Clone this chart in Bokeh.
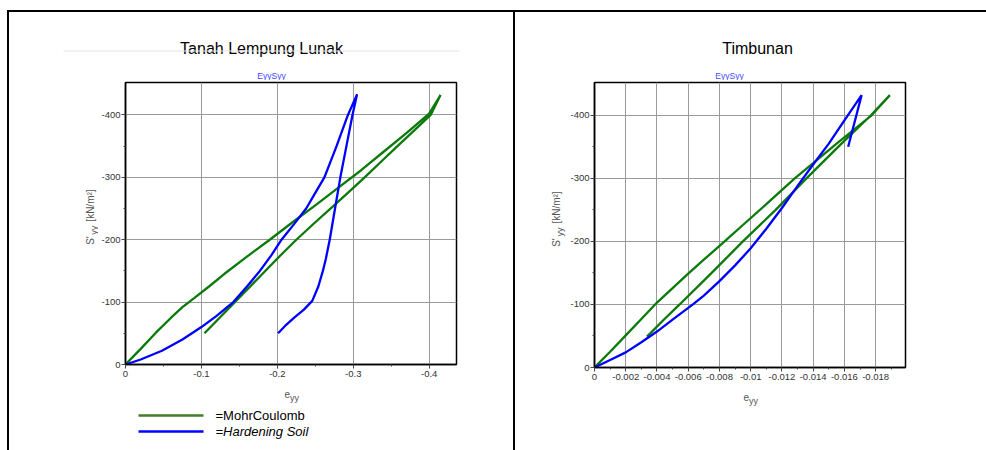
import math
from bokeh.plotting import figure
from bokeh.models import Range1d, FixedTicker, Div
from bokeh.layouts import row, column
from bokeh.core.properties import value
from bokeh.embed import file_html
from bokeh.resources import INLINE

# ---------------- data ----------------
# Tanah Lempung Lunak (left)
lunak_mc_load_x = [0, -0.02, -0.04, -0.06, -0.075, -0.09, -0.11, -0.13, -0.16, -0.19, -0.22, -0.25, -0.28, -0.31, -0.34, -0.37, -0.40, -0.415]
lunak_mc_load_y = [0, -25, -51, -75, -92, -106, -125, -145, -173, -200, -228, -255, -283, -311, -341, -371, -402, -432]
lunak_mc_unload_x = [-0.415, -0.402, -0.38, -0.36, -0.34, -0.315, -0.29, -0.27, -0.25, -0.225, -0.205, -0.185, -0.165, -0.144, -0.124, -0.104]
lunak_mc_unload_y = [-432, -400, -375, -352, -329, -300, -272, -250, -228, -200, -176, -151, -126, -100, -75, -50]
lunak_hs_load_x = [0, -0.02, -0.048, -0.075, -0.10, -0.12, -0.142, -0.16, -0.177, -0.192, -0.2055, -0.222, -0.238, -0.25, -0.262, -0.278, -0.293, -0.305]
lunak_hs_load_y = [0, -8, -22, -40, -60, -78, -100, -125, -150, -175, -200, -225, -250, -275, -300, -350, -400, -433]
lunak_hs_unload_x = [-0.305, -0.299, -0.291, -0.283, -0.276, -0.269, -0.264, -0.26, -0.254, -0.246, -0.235, -0.223, -0.212, -0.201]
lunak_hs_unload_y = [-433, -400, -350, -300, -250, -200, -170, -150, -125, -102, -88, -76, -64, -50]

# Timbunan (right)
timb_mc_load_x = [0, -0.001, -0.002, -0.003, -0.004, -0.005, -0.006, -0.007, -0.00833, -0.0095, -0.011, -0.01282, -0.014, -0.0155, -0.01774, -0.01891]
timb_mc_load_y = [0, -25, -51, -77, -103, -126, -149, -171, -200, -226, -259, -300, -324, -355, -400, -432]
timb_mc_unload_x = [-0.01891, -0.0177, -0.0156, -0.01357, -0.0116, -0.0095, -0.0075, -0.00545, -0.0044, -0.00336]
timb_mc_unload_y = [-432, -400, -350, -300, -250, -200, -150, -100, -75, -49]
timb_hs_load_x = [0, -0.001, -0.002, -0.003, -0.004, -0.005, -0.0063, -0.007, -0.008, -0.009, -0.01, -0.011, -0.012, -0.013, -0.014, -0.015, -0.016, -0.0171]
timb_hs_load_y = [0, -12, -24, -40, -57, -76, -100, -114, -137, -162, -189, -220, -253, -288, -322, -355, -392, -432]
timb_hs_unload_x = [-0.0171, -0.01667, -0.01624]
timb_hs_unload_y = [-432, -391, -350]

lunak_x_ticks = [0, -0.1, -0.2, -0.3, -0.4]
lunak_x_labels = ["0", "-0.1", "-0.2", "-0.3", "-0.4"]
lunak_x_minor = [-0.05, -0.15, -0.25, -0.35]
timb_x_ticks = [0, -0.002, -0.004, -0.006, -0.008, -0.01, -0.012, -0.014, -0.016, -0.018]
timb_x_labels = ["0", "-0.002", "-0.004", "-0.006", "-0.008", "-0.01", "-0.012", "-0.014", "-0.016", "-0.018"]
timb_x_minor = [-0.001, -0.003, -0.005, -0.007, -0.009, -0.011, -0.013, -0.015, -0.017, -0.019]
y_ticks = [0, -100, -200, -300, -400]
y_labels = ["0", "-100", "-200", "-300", "-400"]
y_minor = [-50, -150, -250, -350]

titles = ["Tanah Lempung Lunak", "Timbunan"]
subtitle = "EyySyy"
legend_labels = ["=MohrCoulomb", "=Hardening Soil"]

GREEN = "#0b7a0b"
BLUE = "#0000ff"
LEG_GREEN = "#3f7f2a"
FONT = "Liberation Sans"
TICK_COL = "#333333"
LAB_COL = "#555555"


# ---------- helpers ----------
class Canvas:
    """A bare figure used as a drawing surface, addressed in page pixels."""
    def __init__(self, page_x, page_y, w, h):
        self.px, self.py, self.w, self.h = page_x, page_y, w, h
        p = figure(width=w, height=h, output_backend="svg", toolbar_location=None,
                   x_range=Range1d(0, w), y_range=Range1d(0, h),
                   x_axis_type=None, y_axis_type=None,
                   min_border_left=0, min_border_right=0, min_border_top=0,
                   min_border_bottom=0, margin=(0, 0, 0, 0))
        p.outline_line_color = None
        p.grid.visible = False
        p.background_fill_color = "white"
        p.border_fill_color = "white"
        self.p = p

    def X(self, x):
        return x - self.px

    def Y(self, y):
        return self.h - (y - self.py)

    def text(self, x, y, t, size, color="black", align="left", baseline="alphabetic",
             angle=0.0, style="normal"):
        self.p.text(x=[self.X(x)], y=[self.Y(y)], text=[t], text_font=value(FONT),
                    text_font_size=value(size), text_color=color, text_align=align,
                    text_baseline=baseline, angle=angle, text_font_style=style)

    def hline(self, x0, x1, y, color, width):
        self.p.segment(x0=[self.X(x0)], y0=[self.Y(y)], x1=[self.X(x1)], y1=[self.Y(y)],
                       line_color=color, line_width=width)


def make_chart(width, height, bl, br, bt, bb, xr, xticks, xlabels, xminor):
    p = figure(width=width, height=height, output_backend="svg", toolbar_location=None,
               x_range=Range1d(*xr), y_range=Range1d(0, -452),
               min_border_left=bl, min_border_right=br, min_border_top=bt,
               min_border_bottom=bb, margin=(0, 0, 0, 0))
    p.background_fill_color = "white"
    p.border_fill_color = "white"
    p.outline_line_color = "black"
    p.outline_line_width = 1.5
    p.xaxis.ticker = FixedTicker(ticks=xticks, minor_ticks=xminor)
    p.yaxis.ticker = FixedTicker(ticks=y_ticks, minor_ticks=y_minor)
    p.xaxis.major_label_overrides = dict(zip(xticks, xlabels))
    p.yaxis.major_label_overrides = dict(zip(y_ticks, y_labels))
    for ax in (p.xaxis, p.yaxis):
        ax.axis_line_color = "black"
        ax.axis_line_width = 1.5
        ax.major_tick_out = 4
        ax.major_tick_in = 0
        ax.minor_tick_out = 2
        ax.minor_tick_in = 0
        ax.major_tick_line_color = "#444444"
        ax.minor_tick_line_color = "#444444"
        ax.major_label_text_font = FONT
        ax.major_label_text_font_size = "9.5px"
        ax.major_label_text_color = TICK_COL
        ax.major_label_standoff = 2
    p.yaxis.major_label_standoff = 1
    p.grid.grid_line_color = "#9a9a9a"
    p.grid.grid_line_width = 1
    return p


def ylabel(c, bx, y0):
    a = math.pi / 2
    c.text(bx, y0, "S'", "10px", color=LAB_COL, angle=a)
    c.text(bx + 3.5, y0 - 11, "yy", "9px", color=LAB_COL, angle=a)
    c.text(bx, y0 - 25, "[kN/m\u00b2]", "10px", color=LAB_COL, angle=a)


def xlabel(c, x, y):
    c.text(x, y, "e", "10px", color=LAB_COL)
    c.text(x + 5.5, y + 4, "yy", "9px", color=LAB_COL)


# ---------------- left panel (page x 9..513, y 12..450) ----------------
hl = Canvas(9, 12, 504, 68)
hl.text(261, 48, titles[0], "16px", align="center")
hl.hline(63, 459, 50.5, "#e4e4e4", 1)
hl.text(271, 75.5, subtitle, "8.5px", color="#4646ff", align="center")

sl = Canvas(9, 80, 89, 304)
ylabel(sl, 90, 255)

pl = make_chart(415, 304, 25, 57, 2, 20, (0, -0.436),
                lunak_x_ticks, lunak_x_labels, lunak_x_minor)
pl.line(lunak_mc_load_x + lunak_mc_unload_x, lunak_mc_load_y + lunak_mc_unload_y,
        line_color=GREEN, line_width=2.3)
pl.line(lunak_hs_load_x + lunak_hs_unload_x, lunak_hs_load_y + lunak_hs_unload_y,
        line_color=BLUE, line_width=2.3)

fl = Canvas(9, 384, 504, 66)
xlabel(fl, 284, 393)
fl.hline(138, 203, 415, LEG_GREEN, 2.3)
fl.hline(138, 203, 431, BLUE, 2.3)
fl.text(215, 415, legend_labels[0], "13px", baseline="middle")
fl.text(215, 431, legend_labels[1], "13px", baseline="middle", style="italic")

left_col = column(hl.p, row(sl.p, pl, spacing=0), fl.p, spacing=0)

# ---------------- right panel (page x 515..986, y 12..450) ----------------
hr = Canvas(515, 12, 471, 68)
hr.text(757, 48, titles[1], "16px", align="center")
hr.text(729, 75.5, subtitle, "8.5px", color="#4646ff", align="center")

sr = Canvas(515, 80, 51, 307)
ylabel(sr, 556, 257)

pr = make_chart(420, 307, 28, 81, 2, 20, (0, -0.01991),
                timb_x_ticks, timb_x_labels, timb_x_minor)
pr.line(timb_mc_load_x + timb_mc_unload_x, timb_mc_load_y + timb_mc_unload_y,
        line_color=GREEN, line_width=2.3)
pr.line(timb_hs_load_x + timb_hs_unload_x, timb_hs_load_y + timb_hs_unload_y,
        line_color=BLUE, line_width=2.3)

fr = Canvas(515, 387, 471, 63)
xlabel(fr, 743, 396)

right_col = column(hr.p, row(sr.p, pr, spacing=0), fr.p, spacing=0)


# ---------------- page layout with frame lines ----------------
def blk(w, h, color=None):
    st = {"background-color": color} if color else {}
    return Div(text="", width=w, height=h, margin=(0, 0, 0, 0), styles=st)


layout = row(
    blk(7, 450),
    column(
        blk(979, 10),
        blk(979, 2, "black"),
        row(blk(2, 438, "black"), left_col, blk(2, 438, "black"), right_col, spacing=0),
        spacing=0,
    ),
    spacing=0,
)

open("out.html", "w").write(file_html(layout, INLINE))
